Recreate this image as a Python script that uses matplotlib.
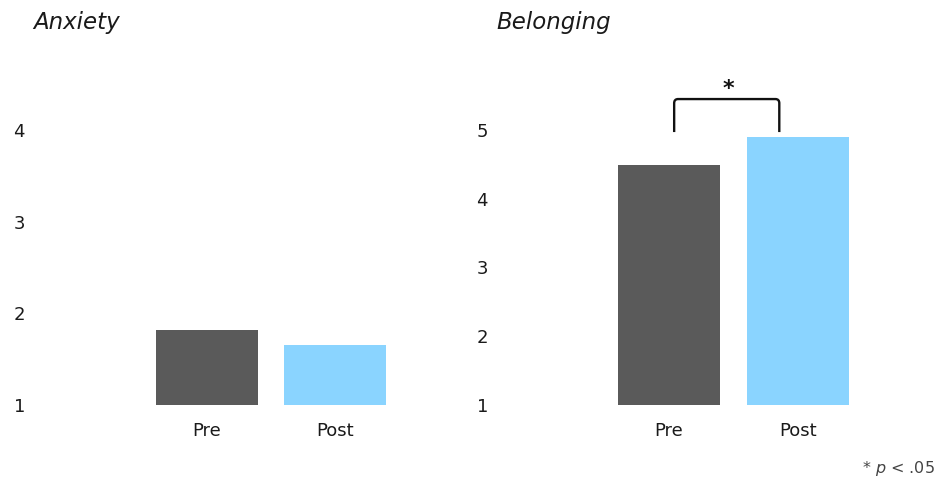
import matplotlib
matplotlib.use("Agg")
import matplotlib.pyplot as plt
from matplotlib.path import Path
from matplotlib.patches import PathPatch

plt.rcParams['font.family'] = ['DejaVu Sans']

# Data
groups = ["Pre", "Post"]
anxiety = [1.82, 1.65]
belonging = [4.49, 4.90]
anxiety_ticks = [1, 2, 3, 4]
belonging_ticks = [1, 2, 3, 4, 5]
colors = ["#5a5a5a", "#8ad4ff"]
text_color = "#1a1a1a"

W, H = 937, 479
fig = plt.figure(figsize=(W / 100, H / 100), dpi=100)


def px_axes(left, right, top, bottom):
    return fig.add_axes([left / W, (H - bottom) / H, (right - left) / W, (bottom - top) / H])


def style(ax, ticks, title, title_x):
    ax.set_ylim(ticks[0], ticks[-1])
    ax.set_yticks(ticks)
    ax.set_yticklabels([str(t) for t in ticks])
    ax.set_xticks(range(len(groups)))
    ax.set_xticklabels(groups)
    for s in ax.spines.values():
        s.set_visible(False)
    ax.tick_params(axis="both", length=0, labelsize=13, colors=text_color)
    ax.tick_params(axis="y", pad=8)
    ax.tick_params(axis="x", pad=12)
    fig.text(title_x / W, (H - 22) / H, title, style="italic", fontsize=16.5,
             color=text_color, ha="left", va="center")


unit = 129.0
bar_w = 102 / unit

# Anxiety panel
ax1 = px_axes(36, 420, 130, 405)
ax1.bar(range(len(groups)), [v - anxiety_ticks[0] for v in anxiety], bottom=anxiety_ticks[0],
        width=bar_w, color=colors)
ax1.set_xlim(-(206.5 - 36) / unit, 1 + (420 - 335.5) / unit)
style(ax1, anxiety_ticks, "Anxiety", 33)

# Belonging panel
ax2 = px_axes(499, 910, 130, 405)
ax2.bar(range(len(groups)), [v - belonging_ticks[0] for v in belonging], bottom=belonging_ticks[0],
        width=bar_w, color=colors)
ax2.set_xlim(-(669 - 499) / unit, 1 + (910 - 798) / unit)
style(ax2, belonging_ticks, "Belonging", 496)

# Significance bracket between Pre and Post
xl, xr = 0.04, 0.855
yb, yt = 4.97, 5.45
r_x, r_y = 0.03, 0.06
verts = [(xl, yb), (xl, yt - r_y), (xl, yt), (xl + r_x, yt),
         (xr - r_x, yt), (xr, yt), (xr, yt - r_y), (xr, yb)]
codes = [Path.MOVETO, Path.LINETO, Path.CURVE3, Path.CURVE3,
         Path.LINETO, Path.CURVE3, Path.CURVE3, Path.LINETO]
ax2.add_patch(PathPatch(Path(verts, codes), fill=False, lw=1.7, edgecolor="#111111",
                        clip_on=False, capstyle="butt", joinstyle="round"))
ax2.text((xl + xr) / 2 + 0.01, 5.6, "*", ha="center", va="center", fontsize=16,
         fontweight="bold", color="#111111", clip_on=False)

# Footnote
fig.text(935 / W, (H - 468) / H, r"* $\it{p}$ < .05", ha="right", va="center",
         fontsize=11.5, color="#444444")

fig.savefig("out.png", dpi=100)
